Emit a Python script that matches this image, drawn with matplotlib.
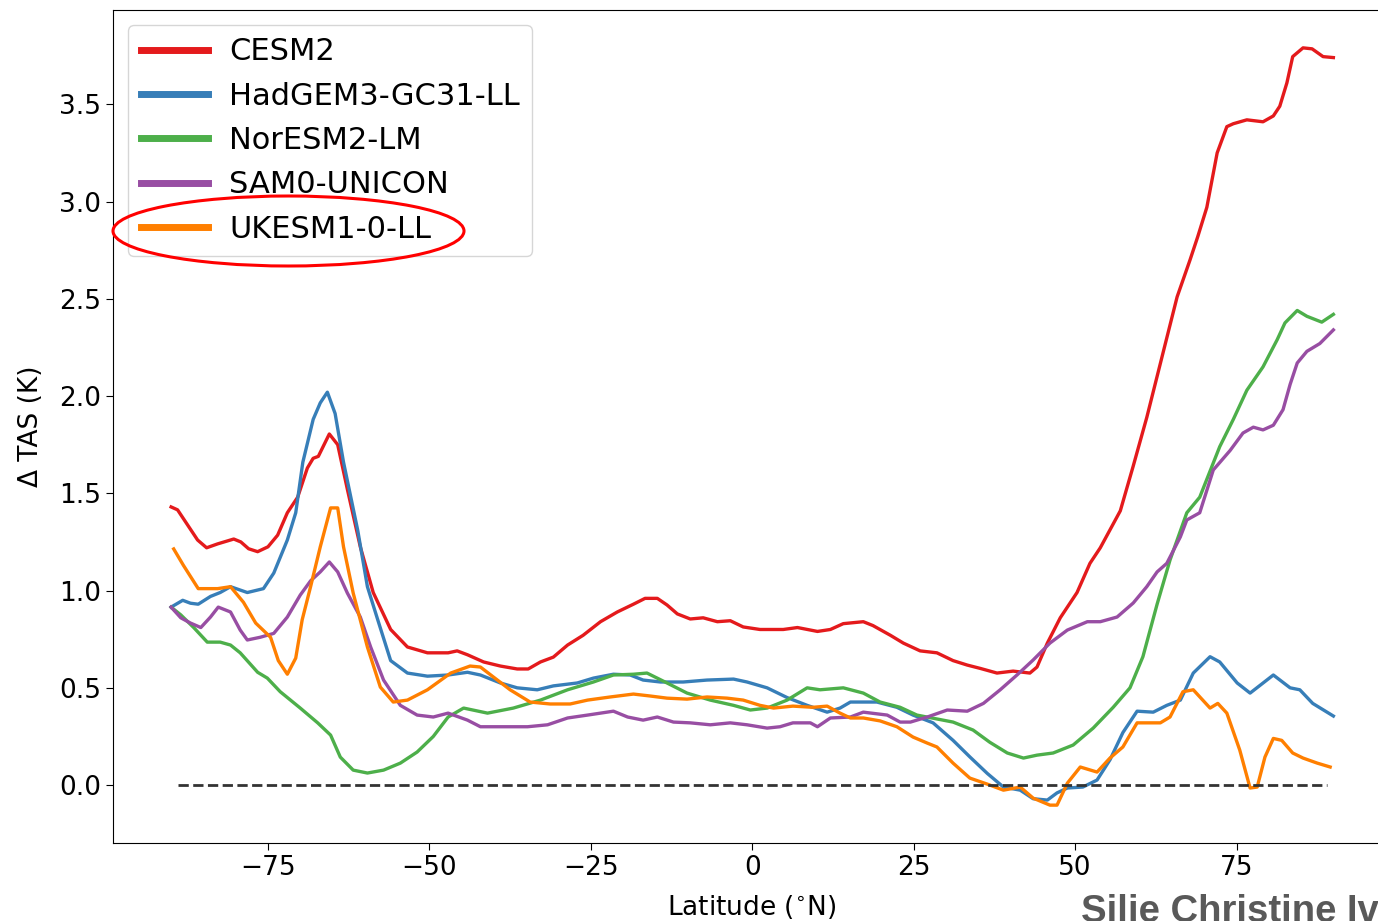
import matplotlib
matplotlib.use('Agg')
import matplotlib.pyplot as plt
from matplotlib.patches import Ellipse

# zonal-mean surface temperature change
cesm2_lat = [-90, -89.0, -85.9, -84.5, -82.8, -80.3, -79.2, -78.0, -76.6, -75.0,
             -73.5, -72.0, -70.4, -68.9, -68.0, -67.2, -65.5, -64.2, -62.7, -60.7,
             -58.7, -56.0, -53.4, -50.3, -47.1, -45.7, -44.1, -41.6, -39.0, -36.4,
             -34.7, -32.8, -30.8, -28.6, -26.2, -23.5, -20.9, -18.4, -16.6, -14.7,
             -13.2, -11.6, -9.6, -7.6, -5.4, -3.4, -1.4, 1.2, 4.8, 7.0,
             10.1, 12.1, 14.1, 17.2, 18.7, 21.4, 23.4, 26.0, 28.6, 31.1,
             33.3, 35.3, 37.9, 40.4, 43.0, 44.1, 45.7, 47.7, 50.3, 52.3,
             53.9, 57.0, 59.0, 61.1, 63.6, 65.8, 67.8, 69.0, 70.4, 72.0,
             73.5, 74.5, 76.6, 79.1, 80.7, 81.7, 82.8, 83.7, 85.3, 86.7,
             88.4, 90]
cesm2 = [1.43, 1.415, 1.26, 1.22, 1.24, 1.265, 1.25, 1.215, 1.20, 1.225,
         1.285, 1.40, 1.48, 1.63, 1.68, 1.69, 1.805, 1.75, 1.52, 1.225,
         0.99, 0.80, 0.71, 0.68, 0.68, 0.69, 0.67, 0.633, 0.612, 0.597,
         0.597, 0.633, 0.658, 0.72, 0.77, 0.84, 0.89, 0.93, 0.96, 0.96,
         0.926, 0.88, 0.854, 0.86, 0.84, 0.845, 0.813, 0.80, 0.80, 0.81,
         0.79, 0.80, 0.83, 0.84, 0.82, 0.77, 0.73, 0.69, 0.68, 0.64,
         0.617, 0.60, 0.576, 0.586, 0.576, 0.607, 0.73, 0.86, 0.99, 1.14,
         1.22, 1.41, 1.64, 1.89, 2.22, 2.51, 2.70, 2.82, 2.97, 3.25,
         3.385, 3.40, 3.42, 3.41, 3.44, 3.49, 3.61, 3.745, 3.79, 3.785,
         3.745, 3.74]

hadgem_lat = [-90, -88.2, -87.0, -85.8, -83.9, -82.4, -80.8, -78.2, -75.7, -74.1,
              -72.0, -70.7, -69.6, -68.0, -66.9, -65.8, -64.6, -63.3, -61.1, -59.6,
              -58.0, -56.0, -53.4, -50.3, -47.1, -44.1, -42.1, -39.0, -36.4, -33.3,
              -30.8, -27.1, -24.6, -21.5, -18.9, -16.9, -14.2, -10.7, -7.0, -2.9,
              -0.8, 2.3, 5.4, 8.5, 11.6, 13.6, 15.2, 16.7, 19.3, 22.4,
              24.9, 28.0, 31.1, 33.7, 36.4, 38.9, 41.5, 43.5, 45.7, 47.2,
              48.8, 51.2, 53.4, 55.4, 57.4, 59.6, 62.1, 64.2, 66.3, 68.3,
              70.9, 72.4, 75.1, 77.1, 80.7, 83.3, 84.8, 86.8, 90]
hadgem = [0.915, 0.95, 0.935, 0.93, 0.97, 0.99, 1.02, 0.99, 1.01, 1.09,
          1.26, 1.40, 1.66, 1.88, 1.965, 2.02, 1.91, 1.66, 1.31, 1.02,
          0.85, 0.64, 0.576, 0.56, 0.566, 0.58, 0.566, 0.525, 0.50, 0.49,
          0.51, 0.525, 0.55, 0.57, 0.566, 0.54, 0.53, 0.53, 0.54, 0.545,
          0.53, 0.50, 0.45, 0.41, 0.375, 0.396, 0.427, 0.427, 0.427, 0.40,
          0.36, 0.32, 0.23, 0.145, 0.06, -0.01, -0.026, -0.07, -0.077, -0.04,
          -0.015, -0.01, 0.026, 0.13, 0.27, 0.38, 0.375, 0.41, 0.437, 0.576,
          0.66, 0.633, 0.525, 0.473, 0.566, 0.50, 0.49, 0.42, 0.355]

noresm_lat = [-90, -88.5, -86.5, -84.4, -82.4, -80.8, -79.3, -76.6, -75.1, -73.1,
              -70.0, -67.3, -65.3, -63.8, -61.8, -59.6, -57.1, -54.5, -51.9, -49.4,
              -47.1, -44.7, -41.0, -37.0, -32.8, -28.6, -24.6, -21.5, -18.4, -16.3,
              -13.2, -10.1, -6.5, -2.9, -0.3, 2.3, 5.4, 8.5, 10.5, 14.1,
              17.2, 19.8, 22.9, 25.5, 28.6, 31.1, 34.2, 36.8, 39.5, 42.0,
              44.1, 46.6, 49.7, 52.8, 55.9, 58.5, 60.5, 62.7, 64.7, 67.3,
              69.3, 72.4, 74.5, 76.6, 79.1, 81.3, 82.5, 84.4, 85.9, 88.2,
              90]
noresm = [0.915, 0.875, 0.81, 0.735, 0.735, 0.72, 0.68, 0.58, 0.55, 0.48,
          0.396, 0.32, 0.257, 0.144, 0.077, 0.062, 0.077, 0.113, 0.17, 0.25,
          0.35, 0.396, 0.37, 0.396, 0.437, 0.49, 0.53, 0.566, 0.57, 0.576,
          0.525, 0.473, 0.437, 0.41, 0.386, 0.396, 0.437, 0.50, 0.49, 0.50,
          0.473, 0.427, 0.40, 0.36, 0.34, 0.324, 0.283, 0.22, 0.165, 0.139,
          0.154, 0.165, 0.206, 0.293, 0.40, 0.50, 0.66, 0.93, 1.157, 1.40,
          1.48, 1.74, 1.88, 2.03, 2.15, 2.29, 2.376, 2.44, 2.41, 2.38,
          2.42]

sam0_lat = [-90, -88.5, -87.0, -85.4, -83.9, -82.7, -80.8, -79.3, -78.2, -76.2,
            -74.1, -72.0, -70.0, -68.4, -66.9, -65.5, -64.2, -62.7, -60.7, -59.1,
            -57.1, -54.5, -51.9, -49.4, -47.1, -44.1, -42.1, -39.0, -34.8, -31.7,
            -28.6, -25.5, -21.5, -19.3, -16.9, -14.7, -12.2, -9.6, -6.5, -3.4,
            -0.8, 2.3, 4.3, 6.3, 9.0, 10.1, 12.1, 15.2, 17.2, 20.9,
            22.9, 24.5, 27.1, 30.2, 33.3, 35.8, 38.4, 41.0, 43.5, 46.1,
            48.8, 51.9, 53.9, 56.5, 59.0, 61.1, 62.7, 64.2, 66.3, 67.3,
            69.3, 71.4, 74.0, 76.0, 77.6, 79.1, 80.7, 82.2, 83.3, 84.4,
            85.9, 87.9, 90]
sam0 = [0.915, 0.86, 0.833, 0.81, 0.864, 0.915, 0.89, 0.797, 0.746, 0.76,
        0.78, 0.864, 0.977, 1.05, 1.096, 1.147, 1.096, 0.987, 0.864, 0.71,
        0.54, 0.41, 0.36, 0.35, 0.37, 0.334, 0.30, 0.30, 0.30, 0.31,
        0.345, 0.36, 0.38, 0.35, 0.334, 0.35, 0.324, 0.32, 0.31, 0.32,
        0.31, 0.293, 0.30, 0.32, 0.32, 0.30, 0.345, 0.35, 0.375, 0.36,
        0.324, 0.324, 0.35, 0.386, 0.38, 0.42, 0.49, 0.566, 0.643, 0.73,
        0.797, 0.84, 0.84, 0.864, 0.936, 1.02, 1.096, 1.14, 1.276, 1.363,
        1.40, 1.62, 1.72, 1.81, 1.84, 1.826, 1.85, 1.93, 2.06, 2.17,
        2.23, 2.27, 2.34]

ukesm_lat = [-89.6, -88.1, -85.8, -82.8, -80.8, -78.8, -76.9, -74.6, -73.4, -72.0,
             -70.7, -69.7, -68.4, -66.9, -65.3, -64.2, -63.3, -61.8, -59.6, -57.6,
             -55.6, -53.4, -50.3, -46.7, -43.7, -42.1, -40.1, -37.5, -34.4, -31.3,
             -28.2, -25.5, -22.0, -18.4, -15.8, -13.2, -10.1, -7.0, -3.9, -1.4,
             1.2, 3.3, 6.3, 9.4, 11.6, 13.6, 15.2, 17.2, 19.8, 22.4,
             24.9, 27.1, 28.6, 31.1, 33.7, 36.4, 38.9, 41.5, 43.5, 46.1,
             47.2, 48.8, 50.8, 53.4, 55.4, 57.4, 59.6, 63.2, 64.7, 66.7,
             68.3, 70.9, 72.1, 73.5, 75.5, 77.1, 78.2, 79.4, 80.7, 82.0,
             83.7, 85.3, 87.5, 89.5]
ukesm = [1.214, 1.13, 1.01, 1.01, 1.02, 0.94, 0.833, 0.76, 0.64, 0.57,
         0.653, 0.85, 1.02, 1.225, 1.425, 1.425, 1.225, 0.987, 0.71, 0.504,
         0.427, 0.437, 0.49, 0.576, 0.612, 0.607, 0.556, 0.49, 0.427, 0.417,
         0.417, 0.437, 0.453, 0.468, 0.458, 0.447, 0.442, 0.453, 0.447, 0.437,
         0.41, 0.396, 0.406, 0.40, 0.406, 0.37, 0.345, 0.345, 0.33, 0.30,
         0.247, 0.216, 0.196, 0.113, 0.036, 0.005, -0.026, -0.01, -0.067, -0.103,
         -0.103, 0.01, 0.093, 0.067, 0.139, 0.196, 0.32, 0.32, 0.35, 0.48,
         0.49, 0.396, 0.42, 0.37, 0.18, -0.015, -0.01, 0.144, 0.24, 0.23,
         0.165, 0.139, 0.113, 0.093]

zero_lat = [-89, 89]
zero_val = [0, 0]

series = [
    ('CESM2', cesm2_lat, cesm2, '#e41a1c'),
    ('HadGEM3-GC31-LL', hadgem_lat, hadgem, '#377eb8'),
    ('NorESM2-LM', noresm_lat, noresm, '#4daf4a'),
    ('SAM0-UNICON', sam0_lat, sam0, '#984ea3'),
    ('UKESM1-0-LL', ukesm_lat, ukesm, '#ff7f00'),
]

W, H = 1378, 921
fig = plt.figure(figsize=(W / 100, H / 100), dpi=100)
# the original image is cropped on the right, so the axes run past the edge
ax = fig.add_axes([113 / W, 78 / H, 1278.5 / W, 833 / H])

for name, lat, vals, col in series:
    ax.plot(lat, vals, color=col, lw=2.4, label=name)
ax.plot(zero_lat, zero_val, color='#333333', ls='--', lw=2)

ax.set_xlim(-99, 99)
ax.set_xticks([-75, -50, -25, 0, 25, 50, 75])
ax.set_yticks([0, 0.5, 1, 1.5, 2, 2.5, 3, 3.5])
ax.tick_params(labelsize=19, length=5)
ax.set_xlabel(r'Latitude ($^{\circ}$N)', fontsize=19, labelpad=9)
ax.set_ylabel('Δ TAS (K)', fontsize=19, labelpad=11)

leg = ax.legend(loc='upper left', fontsize=22, labelspacing=0.5,
                handlelength=2.2, handletextpad=0.7)
for l in leg.get_lines():
    l.set_linewidth(5)

# hand-drawn highlight around the UKESM entry
fig.add_artist(Ellipse((288.5 / W, 690 / H), 351 / W, 70 / H,
                       transform=fig.transFigure, fill=False,
                       edgecolor='red', lw=2.2))

fig.text(1081 / W, -1 / H, 'Silje Christine Iversen', fontsize=27.5,
         fontweight='bold', color='#595959', family='Liberation Sans',
         va='baseline')

fig.savefig('out.png', dpi=100)
plt.close(fig)
